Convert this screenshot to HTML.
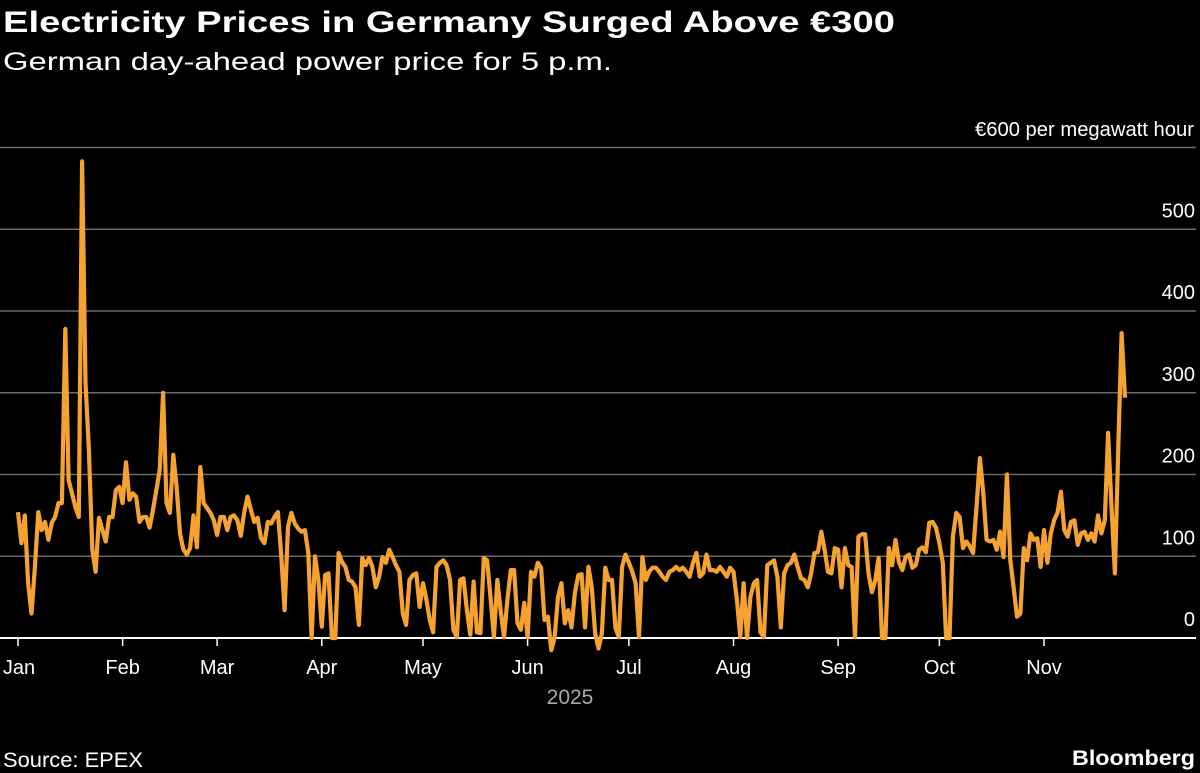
<!DOCTYPE html>
<html><head><meta charset="utf-8"><style>
html,body{margin:0;padding:0;background:#000;}
svg{display:block;font-family:"Liberation Sans",sans-serif;}
</style></head><body>
<svg id="chart" width="1200" height="773" viewBox="0 0 1200 773" xmlns="http://www.w3.org/2000/svg">
<rect width="1200" height="773" fill="#000"/>
<text x="3" y="32" fill="#fff" font-size="30" font-weight="bold" textLength="892" lengthAdjust="spacingAndGlyphs">Electricity Prices in Germany Surged Above €300</text>
<text x="3" y="70" fill="#fff" font-size="25" textLength="609" lengthAdjust="spacingAndGlyphs">German day-ahead power price for 5 p.m.</text>
<text x="1194" y="136" fill="#fff" font-size="20" text-anchor="end" textLength="219" lengthAdjust="spacingAndGlyphs">€600 per megawatt hour</text>
<g id="grid"></g>
<g id="xaxis"></g>
<g id="series"></g>
<text x="570" y="704" fill="#aaa" font-size="21" text-anchor="middle">2025</text>
<text x="3" y="767" fill="#fff" font-size="21" textLength="140" lengthAdjust="spacingAndGlyphs">Source: EPEX</text>
<text x="1195" y="765" fill="#fff" font-size="21" font-weight="bold" text-anchor="end" textLength="123" lengthAdjust="spacingAndGlyphs">Bloomberg</text>
</svg>
<script>
const yTicks = [0, 100, 200, 300, 400, 500, 600];
const yTickLabels = ["0", "100", "200", "300", "400", "500", ""];
const monthLabels = ["Jan","Feb","Mar","Apr","May","Jun","Jul","Aug","Sep","Oct","Nov"];
const monthStartDays = [0,31,59,90,120,151,181,212,243,273,304];
const prices = [
154,116,150,67,30,87,154,132,142,120,141,148,165,165,378,193,177,160,148,583,312,230,108,81,147,132,118,148,148,181,185,
165,215,169,177,173,142,148,148,135,157,181,206,300,165,153,224,185,128,108,102,110,150,111,209,
165,159,153,144,126,148,148,132,148,150,144,125,153,173,157,142,147,122,116,142,140,148,154,100,34,136,153,140,134,130,132,104,0,100,71,14,77,79,0,0,104,93,87,71,69,62,16,98,89,98,87,62,75,99,
92,108,99,89,81,30,16,71,77,79,38,67,47,22,7,87,92,95,89,71,10,1,71,73,34,4,69,7,6,98,95,50,1,71,34,1,47,83,83,18,10,43,1,81,75,92,86,22,26,-15,1,50,67,18,34,13,55,
77,78,13,87,62,6,-13,6,86,71,71,13,1,87,102,92,81,67,1,99,71,81,86,86,81,75,71,81,83,87,83,86,81,75,92,104,75,79,102,83,83,81,87,81,75,86,81,47,1,67,0,50,67,71,7,1,89,92,
95,75,13,79,89,92,102,87,73,71,62,79,104,105,130,108,81,79,110,108,62,110,89,87,1,124,127,127,79,56,71,98,0,0,110,89,120,93,83,99,102,86,89,108,111,105,141,142,135,116,92,0,0,
124,153,148,110,118,112,104,160,220,177,120,118,120,108,130,99,200,95,62,26,30,110,95,128,120,122,87,132,92,128,144,153,179,132,124,142,144,114,128,130,120,128,118,150,128,144,251,160,79,234,373,294
];
const NS = "http://www.w3.org/2000/svg";
const x = d => 18 + d * 3.375;
const y = v => 638 - v * 0.8175;
const grid = document.getElementById('grid');
yTicks.forEach((t, i) => {
  const l = document.createElementNS(NS, 'line');
  
  
  l.setAttribute('x1', 0); l.setAttribute('x2', 1196);
  l.setAttribute('y1', y(t)); l.setAttribute('y2', y(t));
  l.setAttribute('stroke', t === 0 ? '#fff' : '#6b6b6b');
  l.setAttribute('stroke-width', t === 0 ? 2 : 1.6);
  grid.appendChild(l);
  if (yTickLabels[i]) {
    const tx = document.createElementNS(NS, 'text');
    
    
    tx.setAttribute('x', 1195); tx.setAttribute('y', y(t) - 12);
    tx.setAttribute('fill', '#fff'); tx.setAttribute('font-size', 20);
    tx.setAttribute('text-anchor', 'end');
    tx.textContent = yTickLabels[i];
    grid.appendChild(tx);
  }
});
const xa = document.getElementById('xaxis');
monthLabels.forEach((m, i) => {
  const px = x(monthStartDays[i]);
  const tk = document.createElementNS(NS, 'line');
  
  
  tk.setAttribute('x1', px); tk.setAttribute('x2', px);
  tk.setAttribute('y1', 638); tk.setAttribute('y2', 646);
  tk.setAttribute('stroke', '#fff'); tk.setAttribute('stroke-width', 1.5);
  xa.appendChild(tk);
  const tx = document.createElementNS(NS, 'text');
  
  
  tx.setAttribute('x', Math.max(px, 19)); tx.setAttribute('y', 674);
  tx.setAttribute('fill', '#fff'); tx.setAttribute('font-size', 20);
  tx.setAttribute('text-anchor', 'middle');
  tx.textContent = m;
  xa.appendChild(tx);
});
const pts = prices.map((v, d) => x(d).toFixed(1) + ',' + y(v).toFixed(1)).join(' ');
const pl = document.createElementNS(NS, 'polyline');


pl.setAttribute('points', pts);
pl.setAttribute('fill', 'none');
pl.setAttribute('stroke', '#f6a230');
pl.setAttribute('stroke-width', 4.2);
pl.setAttribute('stroke-linejoin', 'round');
document.getElementById('series').appendChild(pl);
</script>
</body></html>
